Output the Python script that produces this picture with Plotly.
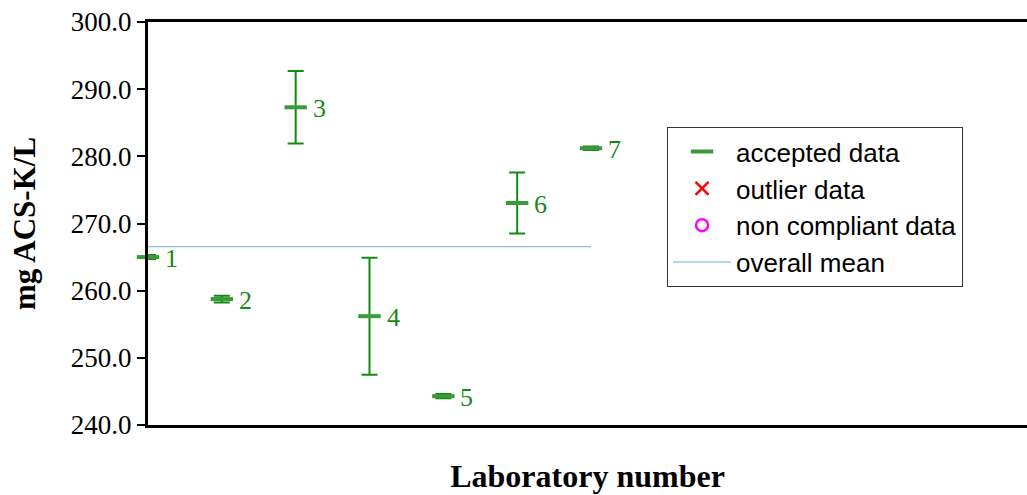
import numpy as np
import plotly.graph_objects as go

# Interlaboratory results for ACS-K
labs = [1, 2, 3, 4, 5, 6, 7]
lab_labels = ["1", "2", "3", "4", "5", "6", "7"]
means = [265.0, 258.75, 287.3, 256.2, 244.3, 273.05, 281.2]
errors = [0.3, 0.5, 5.4, 8.7, 0.3, 4.55, 0.25]
overall_mean = float(np.mean(means))

y_ticks = [240, 250, 260, 270, 280, 290, 300]

SERIF = "Liberation Serif, Times New Roman, serif"
SANS = "Liberation Sans, Arial, sans-serif"
GREEN = "#138a13"
DASH_GREEN = "#3a9a3a"
MEAN_BLUE = "#6aaed6"

fig = go.Figure()

fig.add_trace(go.Scatter(
    x=labs, y=means,
    mode="markers",
    name="accepted data",
    legendgroup="a",
    marker=dict(symbol="line-ew", size=16, color=DASH_GREEN,
                line=dict(width=4, color=DASH_GREEN)),
    error_y=dict(type="data", array=errors, visible=True,
                 color=GREEN, thickness=2, width=8),
    cliponaxis=False,
))

# Empty categories, listed in the legend only
fig.add_trace(go.Scatter(
    x=[None], y=[None], mode="markers", name="outlier data",
    legendgroup="b",
    marker=dict(symbol="x-thin", size=13, color="red",
                line=dict(width=2.5, color="red")),
))
fig.add_trace(go.Scatter(
    x=[None], y=[None], mode="markers", name="non compliant data",
    legendgroup="c",
    marker=dict(symbol="circle-open", size=12, color="magenta",
                line=dict(width=2.5, color="magenta")),
))

fig.add_trace(go.Scatter(
    x=[labs[0], labs[-1]], y=[overall_mean, overall_mean],
    mode="lines", name="overall mean",
    legendgroup="d",
    line=dict(color=MEAN_BLUE, width=1),
))

for xv, yv, lab in zip(labs, means, lab_labels):
    fig.add_annotation(
        x=xv, y=yv, text=lab, showarrow=False,
        xanchor="left", yanchor="middle", xshift=15, yshift=-1,
        font=dict(family=SERIF, size=26, color=GREEN),
    )

fig.update_layout(
    width=1027, height=495,
    margin=dict(l=148, r=0, t=22, b=70),
    paper_bgcolor="white", plot_bgcolor="white",
    showlegend=True,
    legend=dict(
        x=0.5905, y=0.739, xanchor="left", yanchor="top",
        bordercolor="#333333", borderwidth=1, bgcolor="white",
        font=dict(family=SANS, size=26, color="black"),
        traceorder="grouped", tracegroupgap=0, itemwidth=58,
        entrywidth=300, entrywidthmode="pixels",
    ),
    xaxis=dict(
        range=[1, 12.905], showticklabels=False, ticks="",
        showgrid=False, zeroline=False,
        showline=True, linecolor="black", linewidth=3, mirror=True,
        title=dict(text="<b>Laboratory number</b>", standoff=38,
                   font=dict(family=SERIF, size=32, color="black")),
    ),
    yaxis=dict(
        range=[240, 300], tickvals=y_ticks,
        ticktext=[f"{v:.1f}" for v in y_ticks],
        ticks="outside", ticklen=8, tickwidth=2, tickcolor="black",
        showgrid=False, zeroline=False,
        showline=True, linecolor="black", linewidth=3,
        tickfont=dict(family=SERIF, size=27, color="black"),
        title=dict(text="<b>mg ACS-K/L</b>", standoff=26,
                   font=dict(family=SERIF, size=31, color="black")),
    ),
)

fig.write_html("out.html")
